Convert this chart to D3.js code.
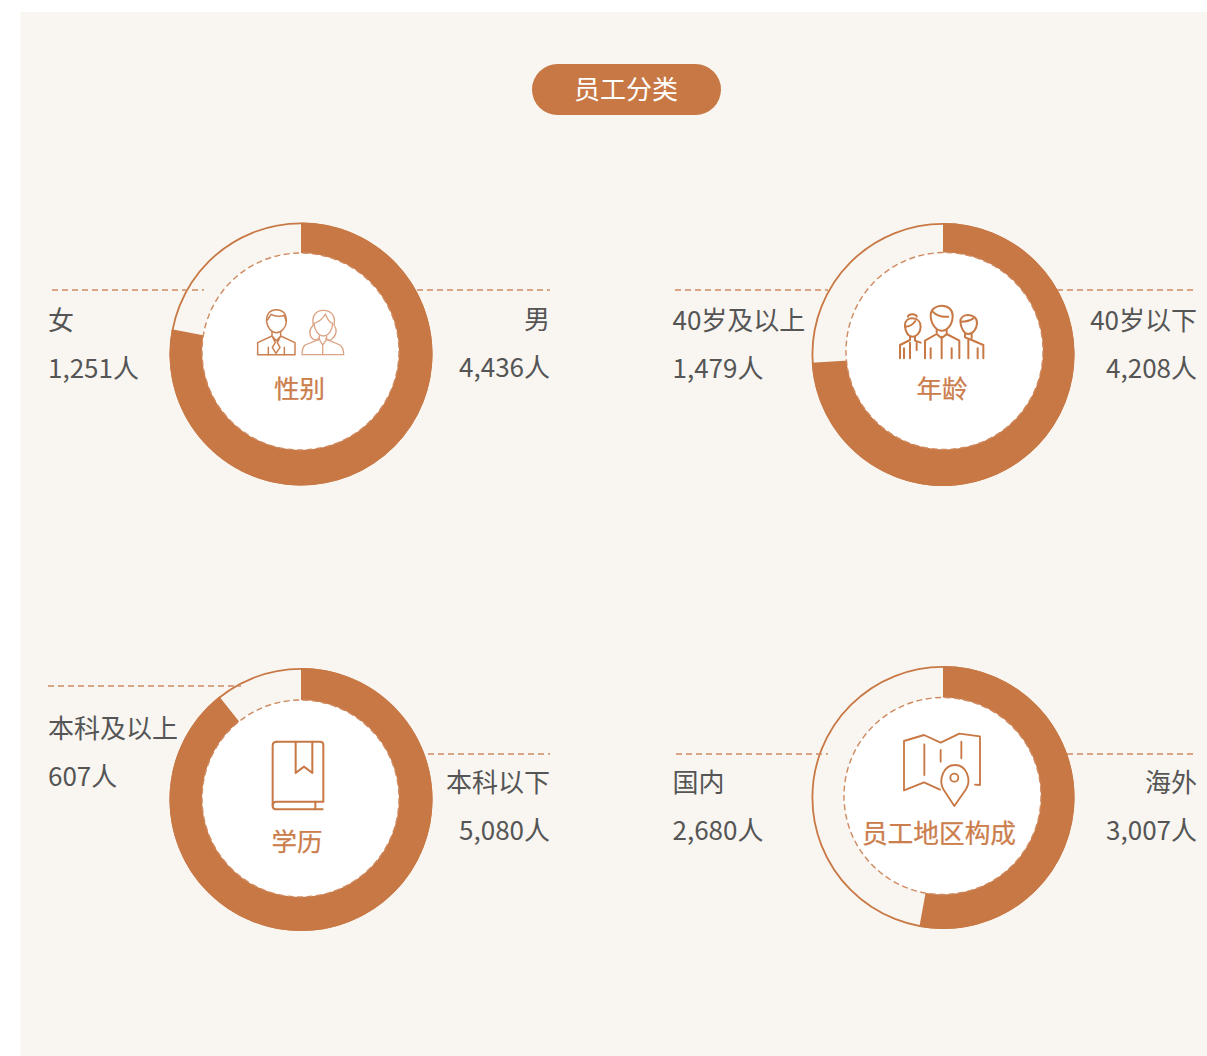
<!DOCTYPE html>
<html><head><meta charset="utf-8">
<script src="https://cdn.jsdelivr.net/npm/d3@7"></script>
<style>html,body{margin:0;padding:0;background:#fff}svg{display:block}text{font-family:"Noto Sans CJK SC","Noto Sans",sans-serif}</style>
</head><body><div id="c"></div>
<script>
const chartTitle = "员工分类";
const centerLabels = ["性别","年龄","学历","员工地区构成"];
const filledNames = ["男","40岁以下","本科以下","海外"];
const filledValues = [4436,4208,5080,3007];
const otherNames = ["女","40岁及以上","本科及以上","国内"];
const otherValues = [1251,1479,607,2680];

const C="#c87844", TXT="#555555", BG="#f9f6f1";
const layout=[
 {ox:301,oy:354,ix:300.5,iy:351.5,lx:[52,204],ly:290,rx:[417,550],ry:290,ltx:48,lt:[318.5,366.5],rtx:550,rt:[317.5,365.5],cy:386,cx:299.5},
 {ox:943,oy:354.5,ix:944.5,iy:351,lx:[675,828],ly:290,rx:[1057,1197],ry:290,ltx:672.5,lt:[318.5,366.5],rtx:1197,rt:[318.5,366.5],cy:386,cx:942},
 {ox:301,oy:799.5,ix:300.5,iy:798.5,lx:[48,241],ly:686,rx:[428,550],ry:754,ltx:48,lt:[726.5,774.5],rtx:550,rt:[780.5,828.5],cy:839,cx:297},
 {ox:943,oy:797.5,ix:942.5,iy:796,lx:[676,828],ly:754,rx:[1067,1197],ry:754,ltx:672.5,lt:[780.5,828.5],rtx:1197,rt:[780.5,828.5],cy:831,cx:939}
];
const R=131.5, r=98.5;
const svg=d3.select("#c").append("svg").attr("width",1207).attr("height",1056);
svg.append("rect").attr("x",20.5).attr("y",12).attr("width",1186.5).attr("height",1044).attr("fill",BG);
svg.append("rect").attr("x",532).attr("y",64).attr("width",189).attr("height",51).attr("rx",25.5).attr("fill",C);
svg.append("text").attr("x",626).attr("y",87).attr("text-anchor","middle").attr("dominant-baseline","central")
  .attr("font-size",26).attr("fill","#fff").text(chartTitle);

const pie=d3.pie().sort(null).value(d=>d);
const arcGen=d3.arc().innerRadius(r-4).outerRadius(R);
const fmt=d3.format(",");

layout.forEach((L,i)=>{
  const g=svg.append("g");
  const p=pie([filledValues[i],otherValues[i]]);
  // thin ring
  g.append("circle").attr("cx",L.ox).attr("cy",L.oy).attr("r",R-.9).attr("fill",BG).attr("stroke",C).attr("stroke-width",1.8);
  // connector lines
  [[L.lx,L.ly],[L.rx,L.ry]].forEach(([xs,y])=>{
    g.append("line").attr("x1",xs[0]).attr("x2",xs[1]).attr("y1",y).attr("y2",y)
     .attr("stroke","#cf8a60").attr("stroke-width",1.5).attr("stroke-dasharray","6 4");
  });
  // filled arc
  g.append("path").attr("transform",`translate(${L.ox},${L.oy})`).attr("d",arcGen(p[0])).attr("fill",C);
  // inner dashed disc
  g.append("circle").attr("cx",L.ix).attr("cy",L.iy).attr("r",r).attr("fill","#fff")
   .attr("stroke","#cf8a60").attr("stroke-width",1.4).attr("stroke-dasharray","6 3.5");
  g.append("text").attr("x",L.cx).attr("y",L.cy).attr("text-anchor","middle").attr("dominant-baseline","central")
   .attr("font-size",i==3?25.7:25.5).attr("fill","#cb7d4c").attr("stroke","#cb7d4c").attr("stroke-width",.25).text(centerLabels[i]);
  const t=(x,y,a,s)=>g.append("text").attr("x",x).attr("y",y).attr("text-anchor",a).attr("dominant-baseline","central")
   .attr("font-size",26).attr("fill",TXT).text(s);
  t(L.ltx,L.lt[0],"start",otherNames[i]);
  t(L.ltx,L.lt[1],"start",fmt(otherValues[i])+"人");
  t(L.rtx,L.rt[0],"end",filledNames[i]);
  t(L.rtx,L.rt[1],"end",fmt(filledValues[i])+"人");
});

// icons: outlines traced in the 3x zoom frame, then scaled down
function icon(x,y,sw,col,paths){
  const g=svg.append("g").attr("transform",`translate(${x},${y}) scale(${1/3})`)
    .attr("fill","none").attr("stroke",col).attr("stroke-width",sw).attr("stroke-linecap","round").attr("stroke-linejoin","round");
  paths.forEach(d=>g.append("path").attr("d",d));
}
icon(160,210,4.5,"#cb8152",[
 "M320,335C318,310 332,299 349,299C367,299 380,310 379,335C378,352 365,368 349,368C333,368 322,352 320,335Z",
 "M322,330C328,322 330,316 334,313C345,320 365,320 372,316C376,322 376,326 378,332",
 "M336,365V378L293,398V434H405V398L362,378V365",
 "M336,378L349,392L362,378L352,398L360,412L348,430L337,412L346,398Z",
 "M325,412V434M373,412V434",
]);
icon(160,210,4,"#dca384",[
 "M460,345C455,320 465,301 490,301C515,301 528,320 522,345C532,360 528,375 518,385C512,392 503,392 497,385",
 "M460,345C445,360 448,378 458,386C465,392 472,390 478,384",
 "M462,340C478,335 490,325 496,312C502,328 510,338 518,340C518,360 505,378 490,378C475,378 463,360 462,340Z",
 "M478,378V388L435,405C428,412 426,425 426,434H551C551,425 549,412 540,405L500,388V378",
 "M478,388L488,405L500,388M488,405V434",
]);
icon(800,210,6,C,[
 "M315,345C315,332 325,325 337,325C352,325 362,335 362,350C362,367 350,380 337,380C324,380 315,365 315,345Z",
 "M315,350C328,350 340,342 346,333M324,320C324,310 350,310 350,320",
 "M330,380V390L300,405V445M345,380V392L362,398",
 "M312,415V445M330,398V445M350,398V420",
 "M392,315C392,298 408,287 425,287C445,287 458,300 458,318C458,342 443,362 425,362C407,362 392,340 392,315Z",
 "M398,305C410,318 425,322 445,320",
 "M410,360V372L375,392V445M440,360V372L478,392V445M392,415V445M425,380V445M455,415V445M410,372L425,385L440,372",
 "M481,335C481,322 492,315 505,315C520,315 532,325 531,340C530,358 518,372 505,372C492,372 482,352 481,335Z",
 "M483,335C495,335 510,332 520,325",
 "M495,372V382L515,390L550,405V445M515,372V384M533,415V445M505,390V445",
]);
icon(160,655,6,C,[
 "M350,260H480Q490,260 490,270V440H350Q338,440 338,452Q338,463 350,463H488",
 "M350,260Q338,260 338,272V452",
 "M407,260V354L432,335L457,354V260",
 "M466,440V462",
]);
icon(800,655,5.5,C,[
 "M420,404L372,382L312,406V258L372,240L422,263L478,236L540,244V390L525,389",
 "M373,268V360M422,285V320M484,260V310",
 "M463,453L430,403C415,375 430,330 465,330C500,330 515,375 498,403Z",
 "M451,368a12,12 0 1,0 24,0a12,12 0 1,0 -24,0",
]);
</script></body></html>
